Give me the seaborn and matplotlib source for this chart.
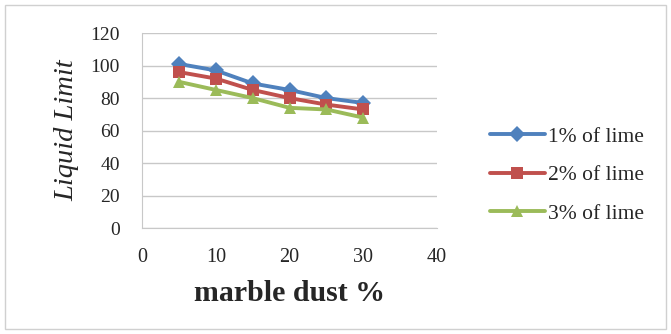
import matplotlib
matplotlib.use("Agg")
import matplotlib.pyplot as plt
import seaborn as sns
import pandas as pd

marble = [5, 10, 15, 20, 25, 30]
lime1 = [101, 97, 89, 85, 80, 77]
lime2 = [96, 92, 85, 80, 76, 73]
lime3 = [90, 85, 80, 74, 73, 68]
labels = ["1% of lime", "2% of lime", "3% of lime"]
colors = ["#4F81BD", "#C0504D", "#9BBB59"]
markers = ["D", "s", "^"]

df = pd.concat([
    pd.DataFrame({"x": marble, "y": vals, "s": lab})
    for vals, lab in zip([lime1, lime2, lime3], labels)
])

sns.set_style("white")
plt.rcParams["font.family"] = ["Liberation Serif", "DejaVu Serif"]

fig = plt.figure(figsize=(6.71, 3.34), dpi=100)
ax = fig.add_axes([0.212, 0.317, 0.439, 0.584])

sns.lineplot(data=df, x="x", y="y", hue="s", style="s", palette=colors,
             markers=markers, dashes=False, linewidth=2.8, markersize=8,
             markeredgewidth=0, ax=ax)

ax.set_xlim(0, 40)
ax.set_ylim(0, 120)
ax.set_xticks([0, 10, 20, 30, 40])
ax.set_yticks(range(0, 121, 20))
ax.yaxis.grid(True, color="#C8C8C8", linewidth=1)
ax.xaxis.grid(False)
for s in ["top", "right"]:
    ax.spines[s].set_visible(False)
for s in ["left", "bottom"]:
    ax.spines[s].set_color("#C8C8C8")
ax.tick_params(axis="y", labelsize=14, length=0, pad=16)
ax.tick_params(axis="x", labelsize=14.5, length=0, pad=14)
ax.set_xlabel("marble dust %", fontsize=21.5, fontweight="bold", labelpad=10)
ax.set_ylabel("Liquid Limit", fontsize=20.5, style="italic", labelpad=8)

leg = ax.legend(loc="center left", bbox_to_anchor=(1.18, 0.272), frameon=False,
                fontsize=15.5, handlelength=2.55, labelspacing=0.86, handletextpad=0.15,
                borderpad=0, borderaxespad=0)
for h in leg.get_lines():
    h.set_linewidth(2.8)

border = plt.Rectangle((0.008, 0.015), 0.985, 0.97, transform=fig.transFigure,
                       fill=False, edgecolor="#D0D0D0", linewidth=1)
fig.patches.append(border)

fig.savefig("out.png", dpi=100)
